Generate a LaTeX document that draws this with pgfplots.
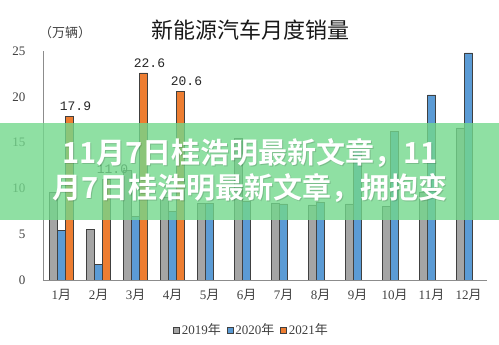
\documentclass[border=0pt]{standalone}
\usepackage{fontspec}
\usepackage{pgfplots}
\pgfplotsset{compat=1.18}
\setmainfont{Liberation Serif}
\newfontfamily\cjk{Noto Sans CJK SC}
\newfontfamily\cjkb{Noto Sans CJK SC Bold}
\newfontfamily\monof{Liberation Mono}
\definecolor{g19}{HTML}{A5A5A5}
\definecolor{b20}{HTML}{5B9BD5}
\definecolor{o21}{HTML}{ED7D31}
\definecolor{band}{RGB}{115,216,140}
\definecolor{axgray}{HTML}{8C8C8C}
\definecolor{txt}{HTML}{404040}
\begin{document}
\begin{tikzpicture}
\path[use as bounding box] (0,0) rectangle (499bp,345bp);
\begin{axis}[
  at={(43bp,65bp)}, anchor=south west,
  scale only axis, width=444bp, height=229bp,
  xmin=-0.5, xmax=11.5, ymin=0, ymax=25,
  ybar=0pt, bar width=8bp,
  axis x line*=bottom, axis y line*=left,
  axis line style={axgray, line width=0.7bp},
  xtick={0,...,11},
  xticklabels={1{\cjk 月},2{\cjk 月},3{\cjk 月},4{\cjk 月},5{\cjk 月},6{\cjk 月},7{\cjk 月},8{\cjk 月},9{\cjk 月},10{\cjk 月},11{\cjk 月},12{\cjk 月}},
  ytick={0,5,...,25},
  major tick length=0pt,
  tick label style={font=\fontsize{13bp}{15bp}\selectfont, text=txt},
  /pgf/number format/assume math mode=true,
  yticklabel style={anchor=east, xshift=-14bp},
  xticklabel style={yshift=-6bp},
  legend style={at={(0.47,-0.218)}, anchor=center, draw=none, fill=none,
    legend columns=3, font=\fontsize{13bp}{15bp}\selectfont, text=txt,
    /tikz/every even column/.append style={column sep=4bp},
    inner sep=0pt, cells={anchor=west}},
]
\addplot[fill=g19, draw=black!75, line width=0.6bp,
  legend image code/.code={\draw[fill=g19, draw=black!75, line width=0.5bp] (0bp,-3bp) rectangle (6bp,3bp);}]
  coordinates {(0,9.6) (1,5.5) (2,12.0) (3,9.0) (4,8.4) (5,15.5) (6,8.4) (7,8.2) (8,8.3) (9,8.0) (10,9.6) (11,16.6)};
\addlegendentry{2019{\cjk 年}}
\addplot[fill=b20, draw=black!75, line width=0.6bp,
  legend image code/.code={\draw[fill=b20, draw=black!75, line width=0.5bp] (0bp,-3bp) rectangle (6bp,3bp);}]
  coordinates {(0,5.4) (1,1.7) (2,6.9) (3,7.5) (4,8.4) (5,8.6) (6,8.3) (7,8.5) (8,14.2) (9,16.2) (10,20.2) (11,24.8)};
\addlegendentry{2020{\cjk 年}}
\addplot[fill=o21, draw=black!75, line width=0.6bp,
  point meta=explicit symbolic,
  nodes near coords={\pgfplotspointmeta},
  nodes near coords style={font=\monof\fontsize{13bp}{15bp}\selectfont, text=black!85, anchor=south, xshift=6bp, yshift=2bp},
  legend image code/.code={\draw[fill=o21, draw=black!75, line width=0.5bp] (0bp,-3bp) rectangle (6bp,3bp);}]
  coordinates {(0,17.9) [17.9] (1,11.0) [11.0] (2,22.6) [22.6] (3,20.6) [20.6]};
\addlegendentry{2021{\cjk 年}}
\end{axis}
\node[font=\cjk\fontsize{22bp}{26bp}\selectfont, text=black!90] at (250bp,315bp) {新能源汽车月度销量};
\node[font=\cjk\fontsize{13bp}{15bp}\selectfont, text=txt] at (65bp,312bp) {（万辆）};
\fill[band, fill opacity=0.8] (0,125bp) rectangle (499bp,222bp);
\node[text=black, opacity=0.15, font=\cjkb\fontsize{29bp}{35bp}\selectfont] at (251bp,191bp) {11月7日桂浩明最新文章，11};
\node[text=black, opacity=0.15, font=\cjkb\fontsize{29bp}{35bp}\selectfont] at (251bp,156bp) {月7日桂浩明最新文章，拥抱变};
\node[text=white, font=\cjkb\fontsize{29bp}{35bp}\selectfont] at (250bp,192bp) {11月7日桂浩明最新文章，11};
\node[text=white, font=\cjkb\fontsize{29bp}{35bp}\selectfont] at (250bp,157bp) {月7日桂浩明最新文章，拥抱变};
\end{tikzpicture}
\end{document}
